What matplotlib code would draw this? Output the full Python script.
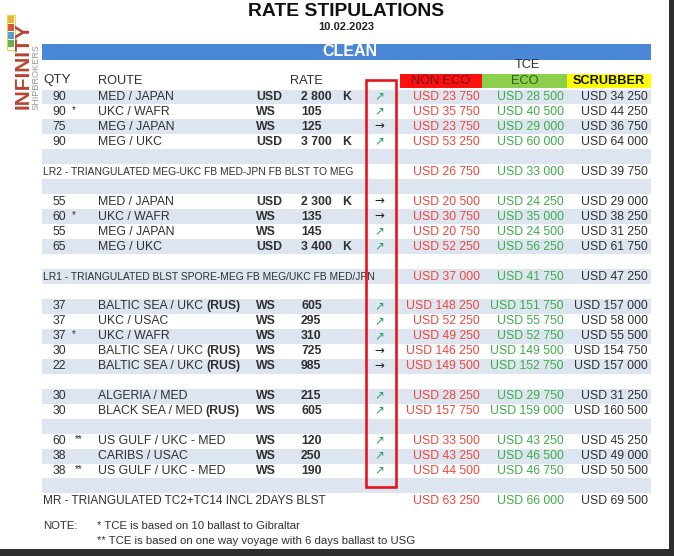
import matplotlib
matplotlib.use('Agg')
import matplotlib.pyplot as plt
from matplotlib.patches import Rectangle

# ---- data read from the sheet ----
title = 'RATE STIPULATIONS'
date = '10.02.2023'
section = 'CLEAN'

qty = ['90', '90', '75', '90', '55', '60', '55', '65', '37', '37', '37', '30', '22',
       '30', '30', '60', '38', '38']
marks = ['', '*', '', '', '', '*', '', '', '', '', '*', '', '', '', '', '**', '', '**']
routes = ['MED / JAPAN', 'UKC / WAFR', 'MEG / JAPAN', 'MEG / UKC',
          'MED / JAPAN', 'UKC / WAFR', 'MEG / JAPAN', 'MEG / UKC',
          'BALTIC SEA / UKC', 'UKC / USAC', 'UKC / WAFR', 'BALTIC SEA / UKC', 'BALTIC SEA / UKC',
          'ALGERIA / MED', 'BLACK SEA / MED',
          'US GULF / UKC - MED', 'CARIBS / USAC', 'US GULF / UKC - MED']
route_flag = ['', '', '', '', '', '', '', '', '(RUS)', '', '', '(RUS)', '(RUS)', '', '(RUS)', '', '', '']
rate_unit = ['USD', 'WS', 'WS', 'USD', 'USD', 'WS', 'WS', 'USD', 'WS', 'WS', 'WS', 'WS', 'WS',
             'WS', 'WS', 'WS', 'WS', 'WS']
rate = ['2 800', '105', '125', '3 700', '2 300', '135', '145', '3 400', '605', '295', '310',
        '725', '985', '215', '605', '120', '250', '190']
rate_k = ['K', '', '', 'K', 'K', '', '', 'K', '', '', '', '', '', '', '', '', '', '']
trend = ['up', 'up', 'flat', 'up', 'flat', 'flat', 'up', 'up', 'up', 'up', 'up', 'flat', 'flat',
         'up', 'up', 'up', 'up', 'up']
non_eco = ['23 750', '35 750', '23 750', '53 250', '20 500', '30 750', '20 750', '52 250',
           '148 250', '52 250', '49 250', '146 250', '149 500', '28 250', '157 750',
           '33 500', '43 250', '44 500']
eco = ['28 500', '40 500', '29 000', '60 000', '24 250', '35 000', '24 500', '56 250',
       '151 750', '55 750', '52 750', '149 500', '152 750', '29 750', '159 000',
       '43 250', '46 500', '46 750']
scrubber = ['34 250', '44 250', '36 750', '64 000', '29 000', '38 250', '31 250', '61 750',
            '157 000', '58 000', '55 500', '154 750', '157 000', '31 250', '160 500',
            '45 250', '49 000', '50 500']

tri_labels = ['LR2 - TRIANGULATED MEG-UKC FB MED-JPN FB BLST TO MEG',
              'LR1 - TRIANGULATED BLST SPORE-MEG FB MEG/UKC FB MED/JPN',
              'MR - TRIANGULATED TC2+TC14 INCL 2DAYS BLST']
tri_non_eco = ['26 750', '37 000', '63 250']
tri_eco = ['33 000', '41 750', '66 000']
tri_scrubber = ['39 750', '47 250', '69 500']

notes = ['* TCE is based on 10 ballast to Gibraltar',
         '** TCE is based on one way voyage with 6 days ballast to USG']

# ---- layout ----
route_slots = [0, 1, 2, 3, 7, 8, 9, 10, 14, 15, 16, 17, 18, 20, 21, 23, 24, 25]
tri_slots = [5, 12, 27]
n_shaded = 27
y0, dy = 97, 14.96
left, right = 42, 651

RED = '#f0473c'
GREEN = '#3cae48'
DARK = '#2f2f2f'
FONT = 'Liberation Sans'
FS = 8.8

plt.rcParams['font.family'] = [FONT, 'DejaVu Sans']

fig = plt.figure(figsize=(6.74, 5.56), dpi=100)
ax = fig.add_axes([0, 0, 1, 1])
ax.set_xlim(0, 674)
ax.set_ylim(556, 0)
ax.axis('off')


def row_y(i):
    return y0 + i * dy


# alternating row shading
for i in range(n_shaded):
    if i % 2 == 0:
        ax.add_patch(Rectangle((left, row_y(i) - dy / 2), right - left, dy,
                               color='#dde5f0', lw=0, zorder=0))

# title block
ax.text(346, 12, title, ha='center', va='center', fontsize=13.9, fontweight='bold', color='#111111')
ax.text(346, 27, date, ha='center', va='center', fontsize=8, fontweight='bold', color='#222222')
ax.add_patch(Rectangle((left, 44), right - left, 16, color='#4a87d6', lw=0))
ax.text(350, 52, section, ha='center', va='center', fontsize=11.5, fontweight='bold', color='white')

# header
ax.text(527, 65, 'TCE', ha='center', va='center', fontsize=9.2, color=DARK)
hy = 80.5
ax.text(43, hy, 'QTY', ha='left', va='center', fontsize=9.6, color=DARK)
ax.text(98, hy, 'ROUTE', ha='left', va='center', fontsize=9.2, color=DARK)
ax.text(306, hy, 'RATE', ha='center', va='center', fontsize=9.2, color=DARK)
head_boxes = [(400, 482, '#ff1010', 'NON ECO', '#6a0000'),
              (482, 567, '#8ccf4c', 'ECO', '#2f5e17'),
              (567, 651, '#ffff00', 'SCRUBBER', '#111111')]
for x0, x1, fc, label, tc in head_boxes:
    ax.add_patch(Rectangle((x0, 73.5), x1 - x0, 14.5, color=fc, lw=0))
    ax.text((x0 + x1) / 2, hy, label, ha='center', va='center', fontsize=9.2, color=tc,
            fontweight='bold' if label == 'SCRUBBER' else 'normal')

renderer = fig.canvas.get_renderer()

# route rows
for k, slot in enumerate(route_slots):
    y = row_y(slot)
    ax.text(59.5, y, qty[k], ha='center', va='center', fontsize=FS, color=DARK)
    if marks[k]:
        ax.text(72 if marks[k] == '*' else 75, y - 2, marks[k], ha='left', va='center',
                fontsize=7, color=DARK)
    t = ax.text(98, y, routes[k], ha='left', va='center', fontsize=FS, color=DARK)
    if route_flag[k]:
        bb = t.get_window_extent(renderer)
        ax.text(bb.x1 + 3, y, route_flag[k], ha='left', va='center', fontsize=FS,
                fontweight='bold', color=DARK)
    ax.text(256, y, rate_unit[k], ha='left', va='center', fontsize=FS, fontweight='bold', color=DARK)
    ax.text(301, y, rate[k], ha='left', va='center', fontsize=FS, fontweight='bold', color=DARK)
    if rate_k[k]:
        ax.text(342, y, rate_k[k], ha='left', va='center', fontsize=FS, fontweight='bold', color=DARK)
    if trend[k] == 'up':
        ax.text(379, y - 1, '\u2197', ha='center', va='center', fontsize=8.5,
                color='#22a05a', family='DejaVu Sans')
    else:
        ax.text(379, y - 1, '\u2192', ha='center', va='center', fontsize=8.5,
                color='#222222', family='DejaVu Sans')
    ax.text(480, y, 'USD ' + non_eco[k], ha='right', va='center', fontsize=FS, color=RED)
    ax.text(564, y, 'USD ' + eco[k], ha='right', va='center', fontsize=FS, color=GREEN)
    ax.text(648, y, 'USD ' + scrubber[k], ha='right', va='center', fontsize=FS, color=DARK)

# triangulated rows
for k, slot in enumerate(tri_slots):
    y = row_y(slot)
    ax.text(43, y, tri_labels[k], ha='left', va='center',
            fontsize=8.5 if k == 2 else 7.4, color=DARK)
    ax.text(480, y, 'USD ' + tri_non_eco[k], ha='right', va='center', fontsize=FS, color=RED)
    ax.text(564, y, 'USD ' + tri_eco[k], ha='right', va='center', fontsize=FS, color=GREEN)
    ax.text(648, y, 'USD ' + tri_scrubber[k], ha='right', va='center', fontsize=FS, color=DARK)

# highlight box around trend column
ax.add_patch(Rectangle((366, 80), 30, 407, fill=False, ec='#e8141c', lw=1.9, zorder=5))

# notes
ax.text(43, 526, 'NOTE:', ha='left', va='center', fontsize=8.2, color=DARK)
ax.text(97, 526, notes[0], ha='left', va='center', fontsize=8.2, color=DARK)
ax.text(97, 541, notes[1], ha='left', va='center', fontsize=8.2, color=DARK)

# logo
for yy, c in [(16, '#e9b335'), (24, '#d9543c'), (32, '#4f9fd6'), (40, '#5ab552')]:
    ax.add_patch(Rectangle((8, yy), 6, 7, color=c, lw=0))
ax.add_patch(Rectangle((7, 15), 8, 35, fill=False, ec='#e8d64a', lw=0.8))
ax.text(23, 66, 'INFINITY', rotation=90, ha='center', va='center', fontsize=15,
        fontweight='bold', color='#b8432f')
ax.text(36, 77, 'SHIPBROKERS', rotation=90, ha='center', va='center', fontsize=6.6,
        color='#9a9a9a')

# screenshot frame
ax.add_patch(Rectangle((0, 549), 674, 7, color='#2e2e2e', lw=0, zorder=6))
ax.add_patch(Rectangle((669, 0), 5, 556, color='#2e2e2e', lw=0, zorder=6))

fig.savefig('out.png', dpi=100)
